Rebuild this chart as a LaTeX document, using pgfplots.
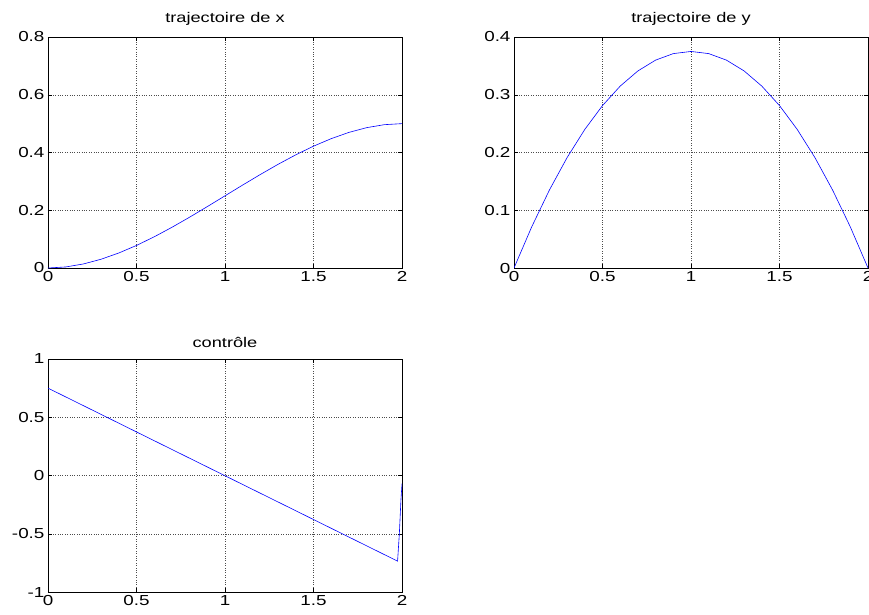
\documentclass[border=0pt]{standalone}
\usepackage{fontspec}
\setmainfont{Liberation Sans}[FakeStretch=1.3]
\usepackage{pgfplots}
\pgfplotsset{compat=1.18}
\definecolor{mblue}{rgb}{0,0,1}
\pgfplotsset{
  mstyle/.style={
    scale only axis,
    width=354pt,
    xmin=0, xmax=2,
    xtick={0,0.5,1,1.5,2},
    grid=major,
    major grid style={dotted, black!70, line width=0.5pt},
    axis line style={black, line width=0.6pt},
    tick style={black, line width=0.5pt},
    major tick length=4pt,
    tick align=inside,
    /pgf/number format/assume math mode=true,
    ticklabel style={font=\fontsize{14.5}{16}\selectfont},
    title style={font=\fontsize{14}{16}\selectfont, yshift=2pt},
  },
  curve/.style={mblue, line width=0.6pt, mark=none},
}
\begin{document}
\begin{tikzpicture}
\path[use as bounding box] (0pt,0pt) rectangle (869pt,-614pt);
\begin{axis}[mstyle, at={(48pt,-37pt)}, anchor=north west, height=231pt,
  ymin=0, ymax=0.8, ytick={0,0.2,0.4,0.6,0.8},
  title={trajectoire de x}]
\addplot[curve] coordinates {
(0,0) (0.1,0.003625) (0.2,0.014) (0.3,0.030375) (0.4,0.052) (0.5,0.078125)
(0.6,0.108) (0.7,0.140875) (0.8,0.176) (0.9,0.212625) (1.0,0.25)
(1.1,0.287375) (1.2,0.324) (1.3,0.359125) (1.4,0.392) (1.5,0.421875)
(1.6,0.448) (1.7,0.469625) (1.8,0.486) (1.9,0.496375) (2.0,0.5)
};
\end{axis}
\begin{axis}[mstyle, at={(514pt,-37pt)}, anchor=north west, height=231pt,
  ymin=0, ymax=0.4, ytick={0,0.1,0.2,0.3,0.4},
  title={trajectoire de y}]
\addplot[curve] coordinates {
(0,0) (0.1,0.07125) (0.2,0.135) (0.3,0.19125) (0.4,0.24) (0.5,0.28125)
(0.6,0.315) (0.7,0.34125) (0.8,0.36) (0.9,0.37125) (1.0,0.375)
(1.1,0.37125) (1.2,0.36) (1.3,0.34125) (1.4,0.315) (1.5,0.28125)
(1.6,0.24) (1.7,0.19125) (1.8,0.135) (1.9,0.07125) (2.0,0)
};
\end{axis}
\begin{axis}[mstyle, at={(48pt,-359pt)}, anchor=north west, height=233pt,
  ymin=-1, ymax=1, ytick={-1,-0.5,0,0.5,1},
  title={contrôle}]
\addplot[curve] coordinates {
(0,0.75) (1.975,-0.735) (1.985,-0.5) (1.994,-0.21) (2.0,-0.07)
};
\end{axis}
\end{tikzpicture}
\end{document}
